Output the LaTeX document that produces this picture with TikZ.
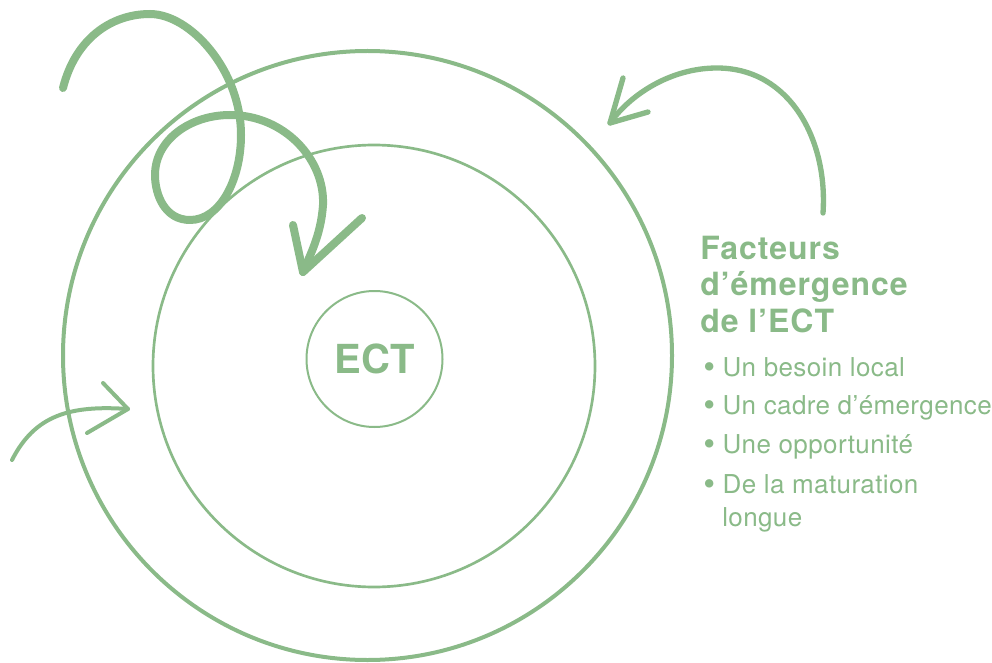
\documentclass[tikz,border=0pt]{standalone}
\usepackage{fontspec}
\setmainfont{TeX Gyre Heros}
\usepackage{tikz}
\definecolor{ectgreen}{RGB}{138,186,136}
\newcommand{\ectbullet}{\raisebox{-0.1em}{\scalebox{1.3}{\textbullet}}\ }

\begin{document}
\begin{tikzpicture}[x=0.75pt,y=0.75pt,yscale=-1,xscale=1,
  sweep/.style={draw=ectgreen,line cap=round,line join=round},
  titleline/.style={text=ectgreen,anchor=base west,inner sep=0pt,font=\bfseries\fontsize{24}{28}\selectfont\addfontfeatures{LetterSpace=3}},
  itemline/.style={text=ectgreen,anchor=base west,inner sep=0pt,font=\fontsize{19.5}{23}\selectfont\addfontfeatures{LetterSpace=1.5}}]
\useasboundingbox (0,0) rectangle (992,663);

%Shape: Circle (outer ring)
\coordinate (outer) at (367.5,355.5);
\draw [ectgreen,line width=3pt] (outer) circle (304.5);
%Shape: Circle (inner ring)
\coordinate (inner) at (374,366);
\draw [ectgreen,line width=2pt] (inner) circle (221);
%Shape: Circle (core)
\node [draw=ectgreen,circle,line width=1.5pt,minimum size=102pt,text=ectgreen,font=\bfseries\fontsize{30}{34}\selectfont] (ect) at (374.5,359) {ECT};

%Curve Lines: loop arrow
\coordinate (loopstart) at (63,88);
\coordinate (looptip) at (303,272);
\draw [sweep,line width=6pt] (loopstart) .. controls (75,40) and (110,14) .. (150,14) .. controls (190,14) and (241,70) .. (241,135) .. controls (241,180) and (220,220) .. (190,220) .. controls (165,220) and (155,195) .. (155,175) .. controls (155,140) and (190,115) .. (230,115) .. controls (285,115) and (325,160) .. (323,205) .. controls (321,235) and (310,255) .. (looptip) ;
\draw [sweep,line width=6pt] (293,225) -- (looptip) -- (362,218) ;

%Curve Lines: right arrow
\coordinate (rightstart) at (823,213);
\coordinate (righttip) at (610,123);
\draw [sweep,line width=4pt] (rightstart) .. controls (828,140) and (790,68) .. (717,68) .. controls (670,68) and (630,95) .. (righttip) ;
\draw [sweep,line width=4pt] (623,78) -- (righttip) -- (648,112) ;

%Curve Lines: left arrow
\coordinate (leftstart) at (12,460);
\coordinate (lefttip) at (128,409);
\draw [sweep,line width=3pt] (leftstart) .. controls (35,415) and (70,405) .. (lefttip) ;
\draw [sweep,line width=3pt] (103,383) -- (lefttip) -- (87,433) ;

% Text Node
\node [titleline] (title1) at (700,259) {Facteurs};
\node [titleline] (title2) at (700,295.5) {d’émergence};
\node [titleline] (title3) at (700,332) {de l’ECT};
% Text Node
\node [itemline] (item1) at (703,376) {\ectbullet Un besoin local};
\node [itemline] (item2) at (703,414) {\ectbullet Un cadre d’émergence};
\node [itemline] (item3) at (703,453) {\ectbullet Une opportunité};
\node [itemline] (item4) at (703,493) {\ectbullet De la maturation};
\node [itemline] (item4b) at (722,526) {longue};

\end{tikzpicture}
\end{document}
